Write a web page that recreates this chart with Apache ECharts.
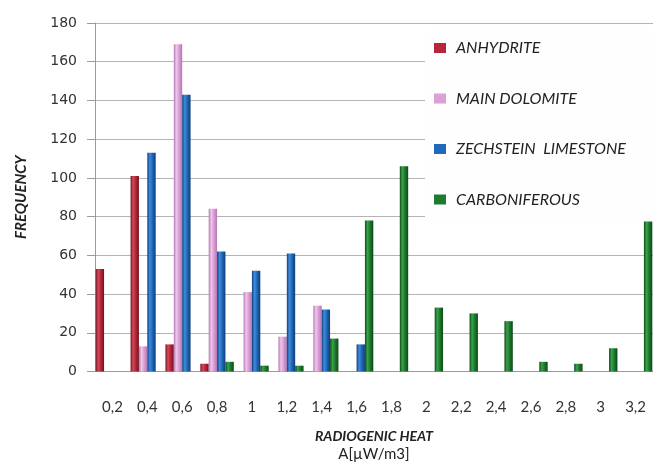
<!DOCTYPE html>
<html>
<head>
<meta charset="utf-8">
<script src="https://cdn.jsdelivr.net/npm/echarts@6/dist/echarts.min.js"></script>
<style>html,body{margin:0;padding:0;background:#fff;}#c{width:653px;height:467px;}</style>
</head>
<body>
<div id="c"></div>
<script>
const categories = ['0,2','0,4','0,6','0,8','1','1,2','1,4','1,6','1,8','2','2,2','2,4','2,6','2,8','3','3,2'];
const anhydrite = [53,101,14,4,null,null,null,null,null,null,null,null,null,null,null,null];
const mainDolomite = [null,13,169,84,41,18,34,null,null,null,null,null,null,null,null,null];
const zechsteinLimestone = [null,113,143,62,52,61,32,14,null,null,null,null,null,null,null,null];
const carboniferous = [null,null,null,5,3,3,17,78,106,33,30,26,5,4,12,78];
const yTicks = {min:0, max:180, interval:20};

function grad(dark, light, mid){
  return new echarts.graphic.LinearGradient(0,0,1,0,[
    {offset:0,color:dark},{offset:0.3,color:light},{offset:0.6,color:mid},{offset:1,color:dark}
  ]);
}
const FONT = 'Lato';
function bar(name, data, dark, light, mid){
  return {name:name, type:'bar', data:data, barGap:'0%', barCategoryGap:'4%',
    itemStyle:{color:grad(dark,light,mid)}, emphasis:{disabled:true}};
}
const chart = echarts.init(document.getElementById('c'));
chart.setOption({
  animation:false,
  backgroundColor:'#ffffff',
  grid:{left:95, top:23, right:-2, bottom:92, containLabel:false},
  graphic:[{type:'rect', left:425, top:30, z:100, silent:true,
    shape:{width:240, height:191}, style:{fill:'#fefefe'}}],
  legend:{
    orient:'vertical', left:425, top:32, padding:[8,40,14,9], z:200,
    itemGap:34.5, itemWidth:12, itemHeight:10, backgroundColor:'#fefefe',
    icon:'rect',
    textStyle:{fontFamily:FONT, fontStyle:'italic', fontSize:16, color:'#222', padding:[0,0,0,5]},
    data:[
      {name:'ANHYDRITE', itemStyle:{color:'#b92538'}},
      {name:'MAIN DOLOMITE', itemStyle:{color:'#dca0d8'}},
      {name:'ZECHSTEIN  LIMESTONE', itemStyle:{color:'#2068b8'}},
      {name:'CARBONIFEROUS', itemStyle:{color:'#1e7a2e'}}
    ]
  },
  xAxis:{
    type:'category', data:categories,
    axisLine:{lineStyle:{color:'#9a9a9a'}},
    axisTick:{length:6, lineStyle:{color:'#9a9a9a'}},
    axisLabel:{margin:28, fontFamily:FONT, fontSize:15, color:'#333'},
    name:'{a|RADIOGENIC HEAT}\n{b|A[µW/m3]}', nameLocation:'middle', nameGap:56,
    nameTextStyle:{rich:{
      a:{fontFamily:FONT, fontStyle:'italic', fontWeight:'bold', fontSize:14, color:'#222', lineHeight:18},
      b:{fontFamily:FONT, fontSize:15, color:'#222', lineHeight:18}
    }}
  },
  yAxis:{
    type:'value', min:yTicks.min, max:yTicks.max, interval:yTicks.interval,
    axisLine:{show:true, lineStyle:{color:'#9a9a9a'}},
    axisTick:{show:true, length:8, lineStyle:{color:'#9a9a9a'}},
    axisLabel:{margin:18, fontFamily:'DejaVu Sans', fontSize:14, color:'#333'},
    splitLine:{lineStyle:{color:'#b4b4b4'}},
    name:'FREQUENCY', nameLocation:'middle', nameGap:66, nameRotate:90,
    nameTextStyle:{fontFamily:FONT, fontStyle:'italic', fontWeight:'bold', fontSize:15, color:'#222'}
  },
  series:[
    bar('ANHYDRITE', anhydrite, '#6e1420', '#d44a5a', '#b92538'),
    bar('MAIN DOLOMITE', mainDolomite, '#b478b0', '#f0c6ec', '#dca0d8'),
    bar('ZECHSTEIN  LIMESTONE', zechsteinLimestone, '#0e3c7c', '#3f8cdc', '#2068b8'),
    bar('CARBONIFEROUS', carboniferous, '#0c4818', '#3aa24a', '#1e7a2e')
  ]
});
</script>
</body>
</html>
